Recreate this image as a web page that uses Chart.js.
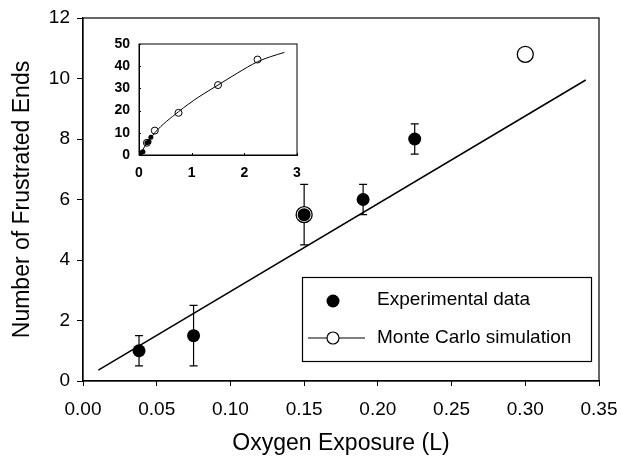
<!DOCTYPE html>
<html><head><meta charset="utf-8">
<script src="https://cdn.jsdelivr.net/npm/chart.js@4/dist/chart.umd.min.js"></script>
<style>
html,body{margin:0;padding:0;background:#fff;}
#wrap{position:relative;width:621px;height:459px;}
#main{position:absolute;left:0;top:0;}
#inset{position:absolute;left:100px;top:30px;}
</style></head><body>
<div id="wrap">
<canvas id="main" width="621" height="459"></canvas>
<canvas id="inset" width="210" height="150"></canvas>
</div>
<script>
// ---- data (main plot) ----
const xTicks = [0.00, 0.05, 0.10, 0.15, 0.20, 0.25, 0.30, 0.35];
const yTicks = [0, 2, 4, 6, 8, 10, 12];
const expX = [0.038, 0.075, 0.15, 0.19, 0.225];
const expY = [1.0, 1.5, 5.5, 6.0, 8.0];
const expErr = [0.5, 1.0, 1.0, 0.5, 0.5];
const mcX = [0.15, 0.30];
const mcY = [5.5, 10.8];
const fitX = [0.0104, 0.341];
const fitY = [0.36, 9.95];
const legendLabels = ['Experimental data', 'Monte Carlo simulation'];
// ---- data (inset) ----
const insetXTicks = [0, 1, 2, 3];
const insetYTicks = [0, 10, 20, 30, 40, 50];
const insetMcX = [0.15, 0.3, 0.75, 1.5, 2.25];
const insetMcY = [5.5, 11, 19, 31.5, 43];
const insetCurveX = [0, 0.3, 0.75, 1.125, 1.5, 1.875, 2.25, 2.5, 2.76];
const insetCurveY = [0, 10, 19.5, 26, 31.5, 37, 42, 44.3, 46.2];

const FONT = "'Liberation Sans', Arial, sans-serif";
const pts = (xs, ys) => xs.map((x, i) => ({x, y: ys[i]}));

const boxAndTicks = {
  id: 'boxAndTicks',
  afterDraw(chart, args, opts) {
    const {ctx, chartArea: a, scales} = chart;
    ctx.save();
    ctx.strokeStyle = '#000';
    ctx.lineWidth = opts.lw || 1.2;
    ctx.strokeRect(a.left, a.top, a.right - a.left, a.bottom - a.top);
    const L = opts.inner || 0;
    if (L) {
      ctx.lineWidth = 1;
      ctx.beginPath();
      scales.x.ticks.forEach(t => {
        const px = Math.round(scales.x.getPixelForValue(t.value)) + 0.5;
        ctx.moveTo(px, a.bottom); ctx.lineTo(px, a.bottom - L);
      });
      scales.y.ticks.forEach(t => {
        const py = Math.round(scales.y.getPixelForValue(t.value)) + 0.5;
        ctx.moveTo(a.left, py); ctx.lineTo(a.left + L, py);
      });
      ctx.stroke();
    }
    ctx.restore();
  }
};

const errorBars = {
  id: 'errorBars',
  beforeDatasetsDraw(chart) {
    const {ctx, scales} = chart;
    ctx.save();
    ctx.strokeStyle = '#000';
    ctx.lineWidth = 1.2;
    chart.data.datasets.forEach(ds => {
      if (!ds.errs) return;
      ds.data.forEach((p, i) => {
        const e = ds.errs[i];
        const px = scales.x.getPixelForValue(p.x);
        const y1 = scales.y.getPixelForValue(p.y + e);
        const y2 = scales.y.getPixelForValue(p.y - e);
        ctx.beginPath();
        ctx.moveTo(px, y1); ctx.lineTo(px, y2);
        ctx.moveTo(px - 4, y1); ctx.lineTo(px + 4, y1);
        ctx.moveTo(px - 4, y2); ctx.lineTo(px + 4, y2);
        ctx.stroke();
      });
    });
    ctx.restore();
  }
};

const boxLegend = {
  id: 'boxLegend',
  afterDraw(chart) {
    const {ctx} = chart;
    ctx.save();
    ctx.strokeStyle = '#000';
    ctx.lineWidth = 1.2;
    ctx.fillStyle = '#fff';
    ctx.fillRect(302, 277, 289, 84);
    ctx.strokeRect(302.5, 277.5, 289, 84);
    ctx.fillStyle = '#000';
    ctx.beginPath(); ctx.arc(333, 301, 6.5, 0, Math.PI * 2); ctx.fill();
    ctx.beginPath(); ctx.moveTo(308, 338); ctx.lineTo(365, 338); ctx.stroke();
    ctx.fillStyle = '#fff';
    ctx.beginPath(); ctx.arc(333, 338, 6, 0, Math.PI * 2); ctx.fill(); ctx.stroke();
    ctx.fillStyle = '#000';
    ctx.font = '19px ' + FONT;
    ctx.textBaseline = 'middle';
    ctx.fillText(legendLabels[0], 377, 300);
    ctx.fillText(legendLabels[1], 377, 338);
    ctx.restore();
  }
};

new Chart(document.getElementById('main'), {
  type: 'scatter',
  data: {
    datasets: [
      {label: legendLabels[0], data: pts(expX, expY), errs: expErr, pointRadius: 6.5, pointBackgroundColor: '#000', pointBorderColor: '#000', pointBorderWidth: 0},
      {label: 'fit', type: 'line', data: pts(fitX, fitY), borderColor: '#000', borderWidth: 1.5, pointRadius: 0, fill: false},
      {label: legendLabels[1], data: pts(mcX, mcY), pointRadius: 8, pointBackgroundColor: '#fff', pointBorderColor: '#000', pointBorderWidth: 1.3}
    ]
  },
  options: {
    responsive: false, animation: false,
    layout: {padding: {top: 18, right: 22, left: 0, bottom: 0}},
    plugins: {legend: {display: false}, tooltip: {enabled: false}, boxAndTicks: {inner: 0}},
    scales: {
      x: {
        type: 'linear', min: 0, max: 0.35,
        afterBuildTicks: s => { s.ticks = xTicks.map(v => ({value: v})); },
        afterFit: s => { s.height = 78; s.paddingLeft = 0; s.paddingRight = 0; },
        grid: {drawOnChartArea: false, drawTicks: true, tickLength: 5, color: '#000'},
        border: {display: true, color: '#000', width: 1.2},
        ticks: {color: '#000', font: {family: FONT, size: 19}, padding: 12, maxRotation: 0, callback: v => Number(v).toFixed(2)},
        title: {display: true, text: 'Oxygen Exposure (L)', color: '#000', font: {family: FONT, size: 23, lineHeight: 1.3}, padding: {top: 0, bottom: 0}}
      },
      y: {
        type: 'linear', min: 0, max: 12,
        afterBuildTicks: s => { s.ticks = yTicks.map(v => ({value: v})); },
        afterFit: s => { s.width = 83; s.paddingTop = 0; s.paddingBottom = 0; },
        grid: {drawOnChartArea: false, drawTicks: true, tickLength: 6, color: '#000'},
        border: {display: true, color: '#000', width: 1.2},
        ticks: {color: '#000', font: {family: FONT, size: 19}, padding: 7},
        title: {display: true, text: 'Number of Frustrated Ends', color: '#000', font: {family: FONT, size: 23, lineHeight: 1.2}, padding: {top: 9, bottom: 0}}
      }
    }
  },
  plugins: [errorBars, boxAndTicks, boxLegend]
});

new Chart(document.getElementById('inset'), {
  type: 'scatter',
  data: {
    datasets: [
      {label: 'exp', data: pts(expX, expY), pointRadius: 2.5, pointBackgroundColor: '#000', pointBorderColor: '#000', pointBorderWidth: 0},
      {label: 'curve', type: 'line', data: pts(insetCurveX, insetCurveY), borderColor: '#000', borderWidth: 1, pointRadius: 0, cubicInterpolationMode: 'monotone', fill: false},
      {label: 'mc', data: pts(insetMcX, insetMcY), pointRadius: 3.5, pointBackgroundColor: '#fff', pointBorderColor: '#000', pointBorderWidth: 1}
    ]
  },
  options: {
    responsive: false, animation: false,
    layout: {padding: {top: 14, right: 13, left: 0, bottom: 0}},
    plugins: {legend: {display: false}, tooltip: {enabled: false}, boxAndTicks: {inner: 2, lw: 1}},
    scales: {
      x: {
        type: 'linear', min: 0, max: 3,
        afterBuildTicks: s => { s.ticks = insetXTicks.map(v => ({value: v})); },
        afterFit: s => { s.height = 25; s.paddingLeft = 0; s.paddingRight = 0; },
        grid: {drawOnChartArea: false, drawTicks: false},
        border: {display: true, color: '#000', width: 1},
        ticks: {color: '#000', font: {family: FONT, size: 14, weight: 'bold'}, padding: 10, maxRotation: 0}
      },
      y: {
        type: 'linear', min: 0, max: 50,
        afterBuildTicks: s => { s.ticks = insetYTicks.map(v => ({value: v})); },
        afterFit: s => { s.width = 39; s.paddingTop = 0; s.paddingBottom = 0; },
        grid: {drawOnChartArea: false, drawTicks: false},
        border: {display: true, color: '#000', width: 1},
        ticks: {color: '#000', font: {family: FONT, size: 14, weight: 'bold'}, padding: 9}
      }
    }
  },
  plugins: [boxAndTicks]
});
</script>
</body></html>
